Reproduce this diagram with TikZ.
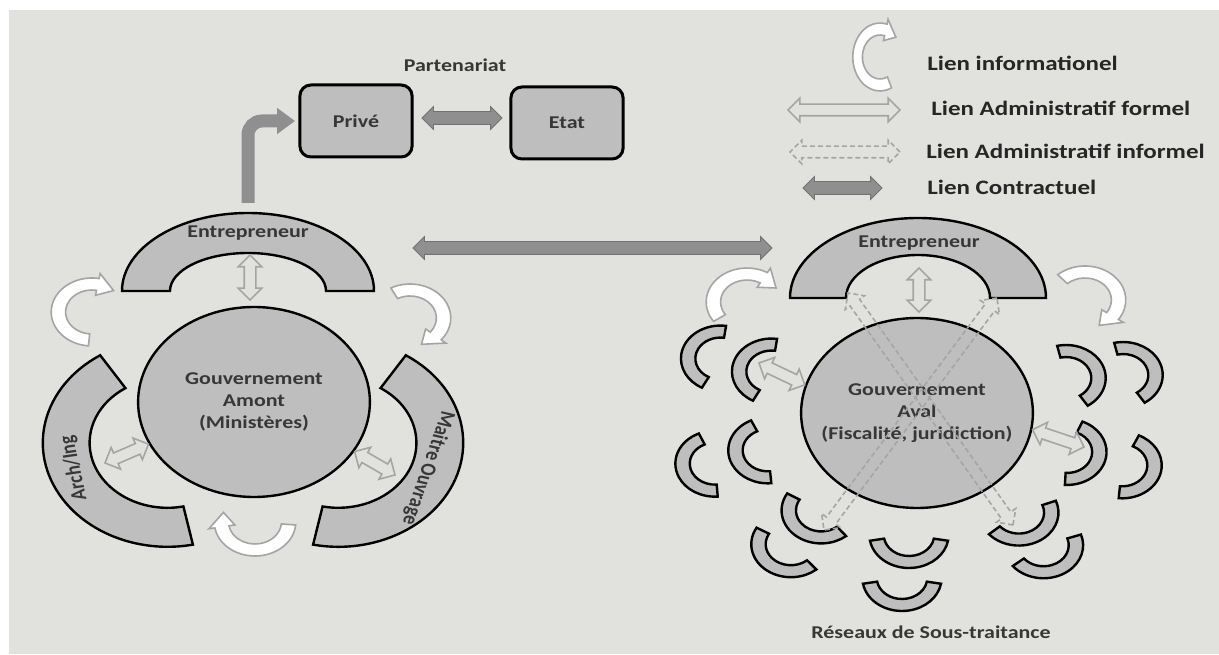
\documentclass[tikz,border=0pt]{standalone}
\usepackage{fontspec}
\setmainfont{Carlito}
\usetikzlibrary{shapes.arrows,arrows.meta,calc}
\definecolor{fondgris}{RGB}{225,225,221}
\definecolor{blocgris}{RGB}{190,190,190}
\definecolor{contgris}{RGB}{143,143,143}
\definecolor{admgris}{RGB}{165,165,165}
\definecolor{textgris}{RGB}{55,55,55}
\begin{document}
\begin{tikzpicture}[x=1pt,y=1pt,
  bloc/.style={draw=black,line width=2.4pt,fill=blocgris},
  titre/.style={font=\bfseries\fontsize{18}{22}\selectfont,text=textgris,xscale=1.22,align=center},
  legende/.style={font=\bfseries\fontsize{20.5}{24}\selectfont,text=black!85,xscale=1.22,anchor=west},
  boite/.style={bloc,line width=3pt,rounded corners=11pt,minimum width=92pt,minimum height=72pt,titre},
  cercle/.style={bloc,circle,minimum size=190pt,inner sep=0pt,titre},
  adminf/.style={double arrow,draw=admgris,line width=1.6pt,inner xsep=0pt,inner ysep=5pt,minimum width=0pt,double arrow head extend=6pt,outer sep=0pt},
  admini/.style={adminf,dash pattern=on 5pt off 3pt},
  contrat/.style={double arrow,draw=contgris!80!black,fill=contgris,line width=0.8pt,inner xsep=0pt,inner ysep=6pt,minimum width=0pt,double arrow head extend=5pt,outer sep=0pt},
  contratpli/.style={draw=contgris,line width=13pt,rounded corners=14pt,-{Triangle[length=18pt,width=25pt]}},
  infolien/.style={draw=admgris,fill=white,line width=1.6pt},
  pics/soustrait/.style={code={\draw[bloc,shift={(18,0)}] (100:33) arc[start angle=100,end angle=260,radius=33] -- (260:21) arc[start angle=260,end angle=100,radius=21] -- cycle;}},
  pics/lieninfo/.style n args={3}{code={\draw[infolien] (#1:34) arc[start angle=#1,end angle=#2,radius=34] -- (#2:39) -- ({#2+#3}:28) -- (#2:17) -- (#2:22) arc[start angle=#2,end angle=#1,radius=22] -- cycle;}}]
\useasboundingbox (0,0) rectangle (1219,654);
%Fond
\fill[fondgris] (9,0) rectangle (1219,644);
%Legende
\pic[xscale=0.8] at (880,597) {lieninfo={-65}{-285}{-30}};
\coordinate (lf1) at (788,544); \coordinate (lf2) at (900,544);
\coordinate (li1) at (790,502); \coordinate (li2) at (900,502);
\coordinate (lc1) at (803,466); \coordinate (lc2) at (882,466);
\node[legende] (leg1) at (923,591) {Lien informationel};
\node[legende] (leg2) at (927,546) {Lien Administratif formel};
\node[legende] (leg3) at (922,503) {Lien Administratif informel};
\node[legende] (leg4) at (923,467) {Lien Contractuel};
%Partenariat
\node[titre] (parten) at (455,589) {Partenariat};
\node[boite] (prive) at (356,533) {Privé};
\node[boite] (etat) at (567,531) {Etat};
\coordinate (pe1) at (422,536); \coordinate (pe2) at (502,536);
%Cote gauche
\node[cercle] (amont) at (254,252) {Gouvernement\\Amont\\(Ministères)};
\draw[bloc] (122,363) arc[start angle=180,end angle=0,x radius=126,y radius=78] -- (326,363) arc[start angle=0,end angle=180,x radius=78,y radius=38] -- cycle;
\node[titre] (entg) at (248,421) {Entrepreneur};
\draw[bloc,shift={(167.6,211.2)}] (122.7:124.8 and 104) arc[start angle=122.7,end angle=281.7,x radius=124.8,y radius=104] -- (281.7:78 and 65) arc[start angle=281.7,end angle=122.7,x radius=78,y radius=65] -- cycle;
\draw[bloc,shift={(338.4,211.2)}] (-101.7:124.8 and 104) arc[start angle=-101.7,end angle=57.3,x radius=124.8,y radius=104] -- (57.3:78 and 65) arc[start angle=57.3,end angle=-101.7,x radius=78,y radius=65] -- cycle;
\node[titre,rotate=100] (arch) at (74,186) {Arch/Ing};
\node[titre,rotate=-106] (maitre) at (428,186) {Maitre Ouvrage};
\coordinate (eg0) at (248,451);
\coordinate (ea1) at (250,399); \coordinate (ea2) at (250,354);
\coordinate (ai1) at (105,191); \coordinate (mo1) at (395,179);
\pic[xscale=1.2] at (92,342) {lieninfo={265}{80}{-30}};
\pic[xscale=1.2] at (410,336) {lieninfo={118}{-40}{-30}};
\pic[xscale=1.2] at (255,132) {lieninfo={-5}{-170}{-30}};
%Cote droit
\node[cercle] (aval) at (917,241) {Gouvernement\\Aval\\(Fiscalité, juridiction)};
\draw[bloc] (790,356) arc[start angle=180,end angle=0,x radius=128,y radius=80] -- (990,356) arc[start angle=0,end angle=180,x radius=72,y radius=43] -- cycle;
\node[titre] (entd) at (919,411) {Entrepreneur};
\coordinate (ed1) at (919,386); \coordinate (ed2) at (919,342);
\coordinate (xa1) at (848,361); \coordinate (xa2) at (1013,129);
\coordinate (xb1) at (997,356); \coordinate (xb2) at (824,124);
\coordinate (ag1) at (759,291); \coordinate (ad1) at (1084,207);
\coordinate (ec1) at (413,406); \coordinate (ec2) at (772,406);
\pic[xscale=1.2] at (747,352) {lieninfo={215}{60}{-30}};
\pic[xscale=1.2] at (1085,354) {lieninfo={132}{-35}{-30}};
%Sous-traitance
\foreach \px/\py/\rot in {700/301/-18,751/288/-18,694/186/14,747/199/15,1086/283/203,1143/286/203,1088/198/167,1143/184/165,807/130/49,777/96/50,909/101/90,902/58/90,1030/126/121,1054/93/119}
  \pic[xscale=1.2,rotate=\rot] at (\px,\py) {soustrait};
\node[titre] (reseau) at (931,22) {Réseaux de Sous-traitance};
%Liens
\foreach \a/\b in {lf1/lf2,ea1/ea2,ai1/amont.206.8,mo1/amont.-31.6,ed1/ed2,ag1/aval.163,ad1/aval.-10}
  \path let \p1=($(\b)-(\a)$),\n1={veclen(\x1,\y1)} in (\a) -- node[adminf,sloped,minimum height=\n1]{} (\b);
\foreach \a/\b in {li1/li2,xa1/xa2,xb1/xb2}
  \path let \p1=($(\b)-(\a)$),\n1={veclen(\x1,\y1)} in (\a) -- node[admini,sloped,minimum height=\n1]{} (\b);
\foreach \a/\b in {lc1/lc2,pe1/pe2,ec1/ec2}
  \path let \p1=($(\b)-(\a)$),\n1={veclen(\x1,\y1)} in (\a) -- node[contrat,sloped,minimum height=\n1]{} (\b);
\draw[contratpli] (eg0) |- ([xshift=-3pt]prive.west);
\end{tikzpicture}
\end{document}
